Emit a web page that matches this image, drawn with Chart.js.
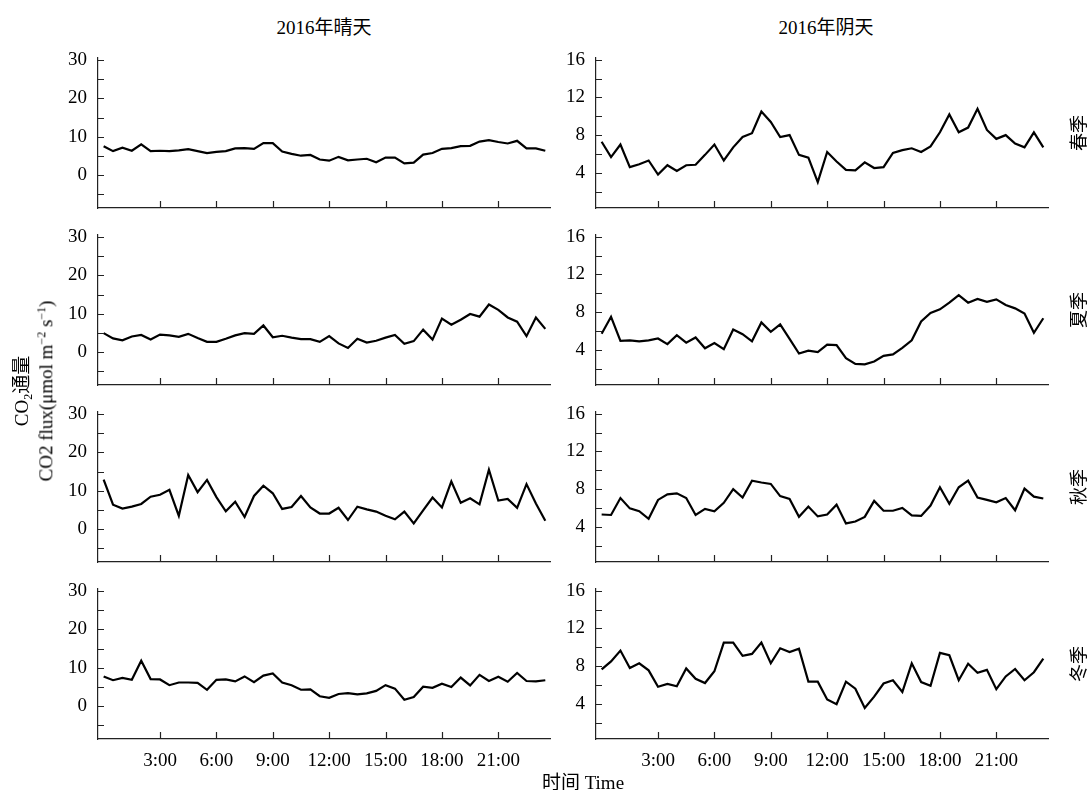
<!DOCTYPE html>
<html>
<head>
<meta charset="utf-8">
<script src="https://cdn.jsdelivr.net/npm/chart.js@4/dist/chart.umd.min.js"></script>
<style>
  body { margin: 0; background: #fff; }
  #wrap { position: relative; width: 1088px; height: 790px; overflow: hidden; font-family: 'Liberation Serif', 'Noto Sans CJK SC', serif; color: #000; }
  canvas { position: absolute; }
  .txt { position: absolute; white-space: nowrap; font-size: 19px; transform: translate(-50%, -50%); }
  .rot { transform: translate(-50%, -50%) rotate(-90deg); }
  sub, sup { font-size: 12px; }
</style>
</head>
<body>
<div id="wrap"></div>
<script>
// half-hourly time of day (h)
var hours = [0, 0.5, 1, 1.5, 2, 2.5, 3, 3.5, 4, 4.5, 5, 5.5, 6, 6.5, 7, 7.5, 8, 8.5, 9, 9.5, 10, 10.5, 11, 11.5,
             12, 12.5, 13, 13.5, 14, 14.5, 15, 15.5, 16, 16.5, 17, 17.5, 18, 18.5, 19, 19.5, 20, 20.5, 21, 21.5, 22, 22.5, 23, 23.5];

var xTickValues = [3, 6, 9, 12, 15, 18, 21];
var xTickLabels = ['3:00', '6:00', '9:00', '12:00', '15:00', '18:00', '21:00'];
var yTicksSunny = [-5, 0, 5, 10, 15, 20, 25, 30];
var yLabelsSunny = [0, 10, 20, 30];
var yTicksCloudy = [2, 4, 6, 8, 10, 12, 14, 16];
var yLabelsCloudy = [4, 8, 12, 16];

var titles = ['2016年晴天', '2016年阴天'];
var seasons = ['春季', '夏季', '秋季', '冬季'];

// CO2 flux, 晴天
var springSunny = [7.5, 6.2, 7.1, 6.3, 8.0, 6.2, 6.3, 6.2, 6.4, 6.7, 6.2, 5.7, 6.0, 6.2, 6.9, 7.0, 6.8, 8.3, 8.3, 6.1, 5.5, 5.0, 5.2, 4.0,
                   3.7, 4.7, 3.8, 4.0, 4.2, 3.3, 4.5, 4.5, 3.0, 3.2, 5.3, 5.7, 6.8, 7.0, 7.5, 7.6, 8.7, 9.1, 8.6, 8.2, 8.9, 6.9, 6.9, 6.3];
var summerSunny = [4.9, 3.5, 3.0, 4.0, 4.4, 3.2, 4.5, 4.3, 3.9, 4.7, 3.6, 2.6, 2.6, 3.4, 4.3, 4.9, 4.7, 6.9, 3.8, 4.2, 3.7, 3.3, 3.3, 2.6,
                   4.1, 2.2, 1.0, 3.4, 2.4, 2.9, 3.7, 4.4, 2.1, 2.8, 5.8, 3.2, 8.7, 7.1, 8.4, 9.9, 9.2, 12.4, 11.0, 9.0, 7.9, 4.1, 9.0, 6.0];
var autumnSunny = [12.9, 6.3, 5.3, 5.8, 6.5, 8.4, 8.9, 10.2, 3.4, 14.1, 9.6, 12.8, 8.3, 4.6, 7.1, 3.1, 8.6, 11.3, 9.3, 5.2, 5.7, 8.6, 5.6, 4.0,
                   4.0, 5.5, 2.3, 5.8, 5.1, 4.5, 3.4, 2.5, 4.5, 1.4, 4.8, 8.2, 5.6, 12.4, 6.8, 8.0, 6.4, 15.5, 7.4, 7.8, 5.5, 11.7, 6.6, 2.1];
var winterSunny = [7.7, 6.7, 7.3, 6.8, 11.8, 7.0, 6.9, 5.4, 6.1, 6.1, 6.0, 4.2, 6.8, 6.9, 6.4, 7.7, 6.2, 7.9, 8.5, 6.1, 5.4, 4.2, 4.3, 2.5,
                   2.1, 3.1, 3.3, 3.0, 3.25, 3.9, 5.4, 4.5, 1.6, 2.3, 5.0, 4.7, 5.8, 4.9, 7.4, 5.35, 8.1, 6.5, 7.6, 6.3, 8.6, 6.5, 6.4, 6.7];

// CO2 flux, 阴天
var springCloudy = [7.3, 5.66, 7.0, 4.6, 4.9, 5.3, 3.8, 4.8, 4.2, 4.8, 4.85, 5.9, 7.0, 5.3, 6.7, 7.8, 8.2, 10.5, 9.4, 7.8, 8.0, 5.9, 5.6, 3.0,
                    6.2, 5.2, 4.3, 4.25, 5.1, 4.5, 4.6, 6.1, 6.4, 6.6, 6.2, 6.8, 8.3, 10.2, 8.3, 8.8, 10.8, 8.55, 7.6, 8.0, 7.1, 6.7, 8.3, 6.7];
var summerCloudy = [5.7, 7.5, 4.95, 5.0, 4.9, 5.0, 5.2, 4.6, 5.55, 4.75, 5.3, 4.15, 4.7, 4.05, 6.15, 5.65, 4.9, 6.9, 5.9, 6.7, 5.15, 3.6, 3.9, 3.75,
                    4.55, 4.5, 3.1, 2.5, 2.45, 2.75, 3.35, 3.5, 4.2, 5.0, 7.0, 7.9, 8.3, 9.0, 9.8, 9.0, 9.4, 9.1, 9.35, 8.75, 8.4, 7.85, 5.8, 7.35];
var autumnCloudy = [5.3, 5.25, 7.05, 5.95, 5.65, 4.85, 6.85, 7.45, 7.55, 7.05, 5.25, 5.9, 5.65, 6.55, 8.0, 7.1, 8.9, 8.7, 8.55, 7.25, 6.95, 5.05, 6.15, 5.1,
                    5.3, 6.35, 4.35, 4.55, 5.05, 6.75, 5.7, 5.7, 6.0, 5.2, 5.15, 6.25, 8.2, 6.45, 8.2, 8.9, 7.1, 6.85, 6.6, 7.05, 5.75, 8.05, 7.2, 7.0];
var winterCloudy = [7.65, 8.5, 9.65, 7.8, 8.3, 7.55, 5.8, 6.1, 5.85, 7.75, 6.65, 6.2, 7.45, 10.5, 10.5, 9.1, 9.3, 10.5, 8.3, 9.9, 9.5, 9.85, 6.35, 6.35,
                    4.45, 3.95, 6.35, 5.6, 3.55, 4.75, 6.15, 6.5, 5.25, 8.3, 6.3, 5.9, 9.4, 9.15, 6.5, 8.25, 7.3, 7.6, 5.55, 6.9, 7.7, 6.5, 7.35, 8.8];

var panels = [
  [springSunny, springCloudy],
  [summerSunny, summerCloudy],
  [autumnSunny, autumnCloudy],
  [winterSunny, winterCloudy]
];

// layout
var colSpine = [98, 596];
var rowTop = [58, 235, 412, 589];
var plotW = 452, plotH = 150, yAxisW = 60, xAxisH = 40, padTop = 10, padRight = 6;
var axisColor = '#222';
var fontFamily = "'Liberation Serif', 'Times New Roman', serif";

var wrap = document.getElementById('wrap');

// tick marks drawn inward, like the original figure
var innerTicks = {
  id: 'innerTicks',
  afterDraw: function(chart) {
    var ctx = chart.ctx, a = chart.chartArea, x = chart.scales.x, y = chart.scales.y;
    ctx.save();
    ctx.strokeStyle = axisColor;
    ctx.lineWidth = 1.2;
    ctx.beginPath();
    x.ticks.forEach(function(t) {
      var px = Math.round(x.getPixelForValue(t.value)) + 0.5;
      ctx.moveTo(px, a.bottom);
      ctx.lineTo(px, a.bottom - 7);
    });
    y.ticks.forEach(function(t) {
      var py = Math.round(y.getPixelForValue(t.value)) + 0.5;
      ctx.moveTo(a.left, py);
      ctx.lineTo(a.left + 6, py);
    });
    ctx.stroke();
    ctx.restore();
  }
};

function addText(html, x, y, cls, size) {
  var d = document.createElement('div');
  d.className = 'txt' + (cls ? ' ' + cls : '');
  d.style.left = x + 'px';
  d.style.top = y + 'px';
  if (size) d.style.fontSize = size + 'px';
  d.innerHTML = html;
  wrap.appendChild(d);
}

function makePanel(row, col) {
  var sunny = col === 0;
  var values = panels[row][col];
  var tickVals = sunny ? yTicksSunny : yTicksCloudy;
  var labelVals = sunny ? yLabelsSunny : yLabelsCloudy;
  var bottomRow = row === 3;

  var cv = document.createElement('canvas');
  var w = yAxisW + plotW + padRight, h = padTop + plotH + xAxisH;
  cv.width = w; cv.height = h;
  cv.style.width = w + 'px'; cv.style.height = h + 'px';
  cv.style.left = (colSpine[col] - yAxisW) + 'px';
  cv.style.top = (rowTop[row] - padTop) + 'px';
  wrap.appendChild(cv);

  var pts = hours.map(function(t, i) { return { x: t, y: values[i] }; });

  new Chart(cv.getContext('2d'), {
    type: 'line',
    data: {
      datasets: [{
        data: pts,
        borderColor: '#000',
        borderWidth: 2.2,
        pointRadius: 0,
        tension: 0,
        fill: false
      }]
    },
    options: {
      responsive: false,
      animation: false,
      layout: { autoPadding: false, padding: { top: padTop, right: padRight, left: 0, bottom: 0 } },
      plugins: { legend: { display: false }, tooltip: { enabled: false } },
      scales: {
        x: {
          type: 'linear',
          min: -0.3,
          max: 23.75,
          grid: { display: false },
          border: { display: true, color: axisColor, width: 1.2 },
          afterBuildTicks: function(s) { s.ticks = xTickValues.map(function(v) { return { value: v }; }); },
          afterFit: function(s) { s.height = xAxisH; s.paddingLeft = 0; s.paddingRight = 0; },
          ticks: {
            display: bottomRow,
            autoSkip: false,
            maxRotation: 0,
            padding: 3,
            color: '#000',
            font: { family: fontFamily, size: 19 },
            callback: function(v) { return xTickLabels[xTickValues.indexOf(v)]; }
          }
        },
        y: {
          min: sunny ? -8.7 : 0.25,
          max: sunny ? 30.6 : 16.2,
          grid: { display: false },
          border: { display: true, color: axisColor, width: 1.2 },
          afterBuildTicks: function(s) { s.ticks = tickVals.map(function(v) { return { value: v }; }); },
          afterFit: function(s) { s.width = yAxisW; s.paddingTop = 0; s.paddingBottom = 0; },
          ticks: {
            autoSkip: false,
            padding: 3,
            color: '#000',
            font: { family: fontFamily, size: 19 },
            callback: function(v) { return labelVals.indexOf(v) >= 0 ? String(v) : ''; }
          }
        }
      }
    },
    plugins: [innerTicks]
  });
}

for (var r = 0; r < 4; r++) {
  for (var c = 0; c < 2; c++) makePanel(r, c);
}

// texts
addText(titles[0], 324, 25);
addText(titles[1], 826, 25);
for (var i = 0; i < seasons.length; i++) {
  addText(seasons[i], 1077, rowTop[i] + plotH / 2, 'rot', 18);
}
addText('CO<sub>2</sub>通量', 21, 391, 'rot');
addText('CO2 flux(μmol m<sup>−2</sup> s<sup>−1</sup>)', 45.5, 391, 'rot');
addText('时间 Time', 583, 780);
</script>
</body>
</html>
